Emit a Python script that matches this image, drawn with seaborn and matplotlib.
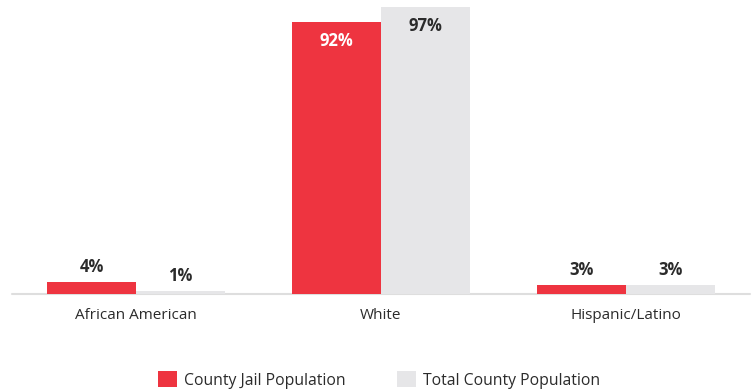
import matplotlib
matplotlib.use("Agg")
import matplotlib.pyplot as plt
import seaborn as sns
import pandas as pd
from matplotlib.patches import Patch

categories = ["African American", "White", "Hispanic/Latino"]
jail_values = [4, 92, 3]
county_values = [1, 97, 3]
series_names = ["County Jail Population", "Total County Population"]

RED = "#EE3440"
GREY = "#E6E6E8"
TEXT = "#2b2b2b"

df = pd.DataFrame({
    "category": categories * 2,
    "value": jail_values + county_values,
    "series": [series_names[0]] * 3 + [series_names[1]] * 3,
})

sns.set_theme(style="white")
plt.rcParams["font.family"] = ["Open Sans", "DejaVu Sans"]

fig = plt.figure(figsize=(7.55, 3.91), dpi=100)
ax = fig.add_axes([12 / 755, 1 - 294 / 391, 738 / 755, 287 / 391])

sns.barplot(data=df, x="category", y="value", hue="series",
            palette=[RED, GREY], width=0.727, gap=0, saturation=1,
            legend=False, ax=ax, linewidth=0)

ax.set_xlim(-0.506, 2.506)
ax.set_ylim(0, 97)
ax.axhline(0, color="#dedede", lw=1.5, zorder=0, clip_on=False)
for s in ax.spines.values():
    s.set_visible(False)
ax.set_yticks([])
ax.set_xlabel("")
ax.set_ylabel("")
ax.tick_params(axis="x", length=0, pad=10, labelsize=11, labelcolor=TEXT)

vals_by_container = [jail_values, county_values]
for ci, cont in enumerate(ax.containers):
    for bar, v in zip(cont, vals_by_container[ci]):
        cx = bar.get_x() + bar.get_width() / 2
        h = bar.get_height()
        if v > 50:
            color = "white" if ci == 0 else TEXT
            ax.annotate(f"{v}%", (cx, h), xytext=(0, -13.5), textcoords="offset points",
                        ha="center", va="center", fontsize=12, fontweight="bold",
                        color=color)
        else:
            ax.annotate(f"{v}%", (cx, h), xytext=(0, 11), textcoords="offset points",
                        ha="center", va="center", fontsize=12, fontweight="bold",
                        color=TEXT)

handles = [Patch(facecolor=RED, edgecolor="none"), Patch(facecolor=GREY, edgecolor="none")]
leg = fig.legend(handles, series_names, loc="center", bbox_to_anchor=(379 / 755, 1 - 380 / 391),
                 ncol=2, frameon=False, fontsize=11.3, handlelength=1.2, handleheight=1.2,
                 handletextpad=0.45, columnspacing=3.3, labelcolor=TEXT)

fig.savefig("out.png", dpi=100)
